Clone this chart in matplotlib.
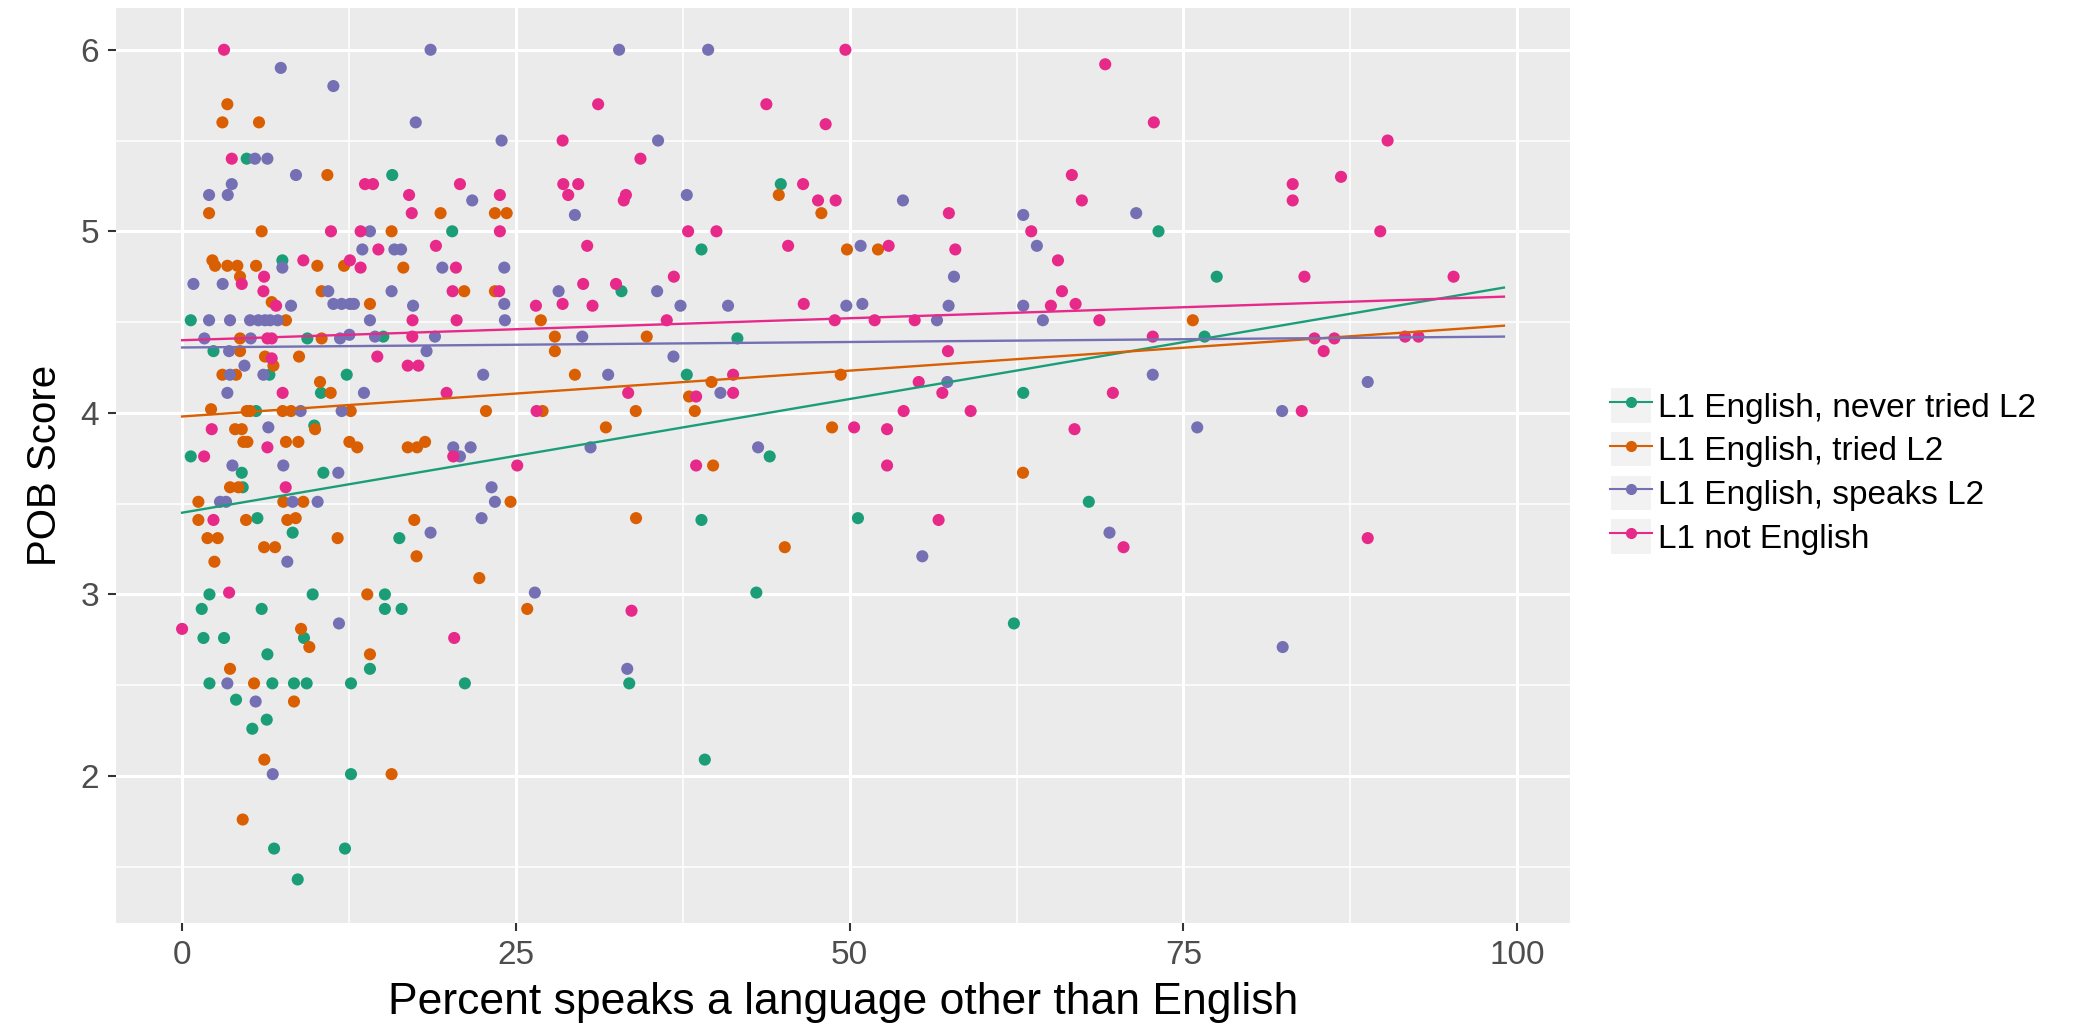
import matplotlib
matplotlib.use("Agg")
import matplotlib.pyplot as plt
from matplotlib.lines import Line2D
from matplotlib.patches import Rectangle

plt.rcParams["font.family"] = ["Liberation Sans", "DejaVu Sans"]

# groups, colours (Dark2)
GROUPS = ["L1 English, never tried L2", "L1 English, tried L2",
          "L1 English, speaks L2", "L1 not English"]
COLORS = ["#1B9E77", "#D95F02", "#7570B3", "#E7298A"]

# points: (percent, POB score)
GREEN_PTS = [
    (4.84, 5.40), (15.74, 5.31), (7.51, 4.84), (0.65, 4.51), (9.38, 4.41), (15.07, 4.42),
    (2.35, 4.34), (6.54, 4.21), (12.33, 4.21), (10.40, 4.11), (5.54, 4.01), (9.90, 3.93),
    (0.65, 3.76), (4.47, 3.67), (10.58, 3.67),
    (4.54, 3.59), (5.64, 3.42), (8.28, 3.34), (16.27, 3.31), (2.05, 3.00), (9.78, 3.00),
    (15.19, 3.00), (1.47, 2.92), (5.96, 2.92), (15.19, 2.92), (16.44, 2.92), (9.13, 2.76),
    (1.60, 2.76), (3.14, 2.76), (6.39, 2.67), (14.07, 2.59), (2.05, 2.51), (6.76, 2.51),
    (8.38, 2.51), (9.33, 2.51), (12.65, 2.51), (4.04, 2.42), (6.34, 2.31), (5.26, 2.26),
    (12.65, 2.01), (6.89, 1.60), (12.20, 1.60), (8.66, 1.43),
    (20.23, 5.00), (32.91, 4.67), (37.80, 4.21), (21.18, 2.51), (33.49, 2.51),
    (44.84, 5.26), (38.90, 4.90), (41.59, 4.41), (63.00, 4.11), (44.01, 3.76),
    (67.91, 3.51), (38.90, 3.41), (50.62, 3.42), (43.01, 3.01), (62.30, 2.84), (39.15, 2.09),
    (73.13, 5.00), (77.49, 4.75), (76.58, 4.42),
]

ORANGE_PTS = [
    (3.39, 5.70), (3.02, 5.60), (5.76, 5.60), (10.88, 5.31), (2.02, 5.10), (5.96, 5.00),
    (15.69, 5.00), (2.27, 4.84), (2.47, 4.81), (3.39, 4.81), (4.14, 4.81), (4.34, 4.75),
    (5.54, 4.81), (10.13, 4.81), (12.13, 4.81), (16.57, 4.80), (10.45, 4.67), (6.71, 4.61),
    (14.07, 4.60), (7.78, 4.51), (4.34, 4.41), (10.45, 4.41), (4.34, 4.34), (6.21, 4.31),
    (8.76, 4.31), (6.84, 4.26), (3.02, 4.21), (4.04, 4.21), (10.33, 4.17), (11.13, 4.11),
    (2.17, 4.02), (4.84, 4.01), (5.09, 4.01), (7.53, 4.01), (8.16, 4.01), (12.63, 4.01),
    (3.97, 3.91), (4.47, 3.91), (9.96, 3.91), (4.59, 3.84), (4.89, 3.84), (7.78, 3.84),
    (8.71, 3.84), (12.53, 3.84), (13.12, 3.81), (16.90, 3.81), (17.60, 3.81),
    (3.59, 3.59), (4.22, 3.59), (1.22, 3.51), (7.58, 3.51), (9.08, 3.51), (1.22, 3.41),
    (4.79, 3.41), (7.88, 3.41), (8.51, 3.42), (1.90, 3.31), (2.67, 3.31), (6.14, 3.26),
    (6.96, 3.26), (11.65, 3.31), (17.39, 3.41), (17.56, 3.21), (2.42, 3.18), (13.87, 3.00),
    (8.91, 2.81), (9.53, 2.71), (14.07, 2.67), (3.59, 2.59), (5.39, 2.51), (8.38, 2.41),
    (6.16, 2.09), (15.69, 2.01), (4.54, 1.76),
    (23.43, 5.10), (24.31, 5.10), (19.36, 5.10), (21.13, 4.67), (23.43, 4.67), (26.87, 4.51),
    (27.92, 4.42), (27.92, 4.34), (34.80, 4.42), (29.42, 4.21), (22.76, 4.01), (27.00, 4.01),
    (33.98, 4.01), (37.97, 4.09), (38.40, 4.01), (31.74, 3.92), (18.20, 3.84),
    (24.60, 3.51), (34.00, 3.42), (22.26, 3.09), (25.85, 2.92),
    (44.69, 5.20), (47.88, 5.10), (49.80, 4.90), (52.12, 4.90), (39.65, 4.17), (49.33, 4.21),
    (48.68, 3.92), (39.77, 3.71), (62.98, 3.67), (45.14, 3.26), (75.70, 4.51),
]

PURPLE_PTS = [
    (7.39, 5.90), (11.33, 5.80), (17.50, 5.60), (5.46, 5.40), (6.39, 5.40), (8.53, 5.31),
    (2.02, 5.20), (3.72, 5.26), (3.42, 5.20), (14.07, 5.00), (13.50, 4.90), (15.90, 4.90),
    (16.40, 4.90), (7.51, 4.80), (0.85, 4.71), (3.04, 4.71), (10.95, 4.67), (15.69, 4.67),
    (8.16, 4.59), (11.33, 4.60), (11.95, 4.60), (12.57, 4.60), (12.87, 4.60), (17.30, 4.59),
    (2.02, 4.51), (3.59, 4.51), (5.09, 4.51), (5.71, 4.51), (6.21, 4.51), (6.59, 4.51),
    (7.16, 4.51), (14.07, 4.51), (1.67, 4.41), (5.14, 4.41), (11.83, 4.41), (12.53, 4.43),
    (14.45, 4.42), (3.52, 4.34), (4.67, 4.26), (3.59, 4.21), (6.09, 4.21), (3.39, 4.11),
    (13.62, 4.11), (8.88, 4.01), (11.95, 4.01), (6.46, 3.92), (3.77, 3.71), (7.58, 3.71),
    (11.70, 3.67),
    (2.84, 3.51), (3.29, 3.51), (8.28, 3.51), (10.15, 3.51), (7.88, 3.18), (11.75, 2.84),
    (3.39, 2.51), (5.51, 2.41), (6.79, 2.01),
    (18.61, 6.00), (32.73, 6.00), (23.93, 5.50), (35.65, 5.50), (21.73, 5.17), (29.42, 5.09),
    (37.80, 5.20), (19.49, 4.80), (24.13, 4.80), (24.13, 4.60), (24.18, 4.51), (28.20, 4.67),
    (35.58, 4.67), (37.33, 4.59), (18.94, 4.42), (18.31, 4.34), (29.97, 4.42), (22.55, 4.21),
    (31.91, 4.21), (36.80, 4.31), (20.31, 3.81), (21.61, 3.81), (20.81, 3.76), (30.59, 3.81),
    (23.18, 3.59), (23.43, 3.51), (22.43, 3.42), (18.61, 3.34), (26.42, 3.01), (33.34, 2.59),
    (39.40, 6.00), (53.99, 5.17), (63.00, 5.09), (64.02, 4.92), (50.82, 4.92), (57.81, 4.75),
    (40.89, 4.59), (49.75, 4.59), (50.95, 4.60), (57.41, 4.59), (63.00, 4.59), (56.54, 4.51),
    (64.47, 4.51), (57.31, 4.17), (40.32, 4.11), (43.14, 3.81), (55.44, 3.21),
    (71.46, 5.10), (72.70, 4.21), (88.80, 4.17), (82.39, 4.01), (76.03, 3.92),
    (69.46, 3.34), (82.43, 2.71),
]

PINK_PTS = [
    (3.14, 6.00), (3.72, 5.40), (13.70, 5.26), (14.30, 5.26), (17.00, 5.20), (17.20, 5.10),
    (11.15, 5.00), (13.37, 5.00), (14.70, 4.90), (6.14, 4.75), (4.47, 4.71), (9.08, 4.84),
    (12.57, 4.84), (13.37, 4.80), (6.09, 4.67), (7.04, 4.59), (17.26, 4.51), (6.39, 4.41),
    (6.71, 4.41), (17.24, 4.42), (6.71, 4.30), (14.62, 4.31), (16.90, 4.26), (17.70, 4.26),
    (7.53, 4.11), (2.22, 3.91), (6.39, 3.81), (1.65, 3.76),
    (7.76, 3.59), (2.35, 3.41), (3.52, 3.01), (0.00, 2.81),
    (31.16, 5.70), (28.50, 5.50), (34.33, 5.40), (20.81, 5.26), (23.80, 5.20), (28.55, 5.26),
    (29.67, 5.26), (28.92, 5.20), (33.08, 5.17), (33.24, 5.20), (23.80, 5.00), (37.90, 5.00),
    (19.01, 4.92), (30.34, 4.92), (20.51, 4.80), (20.26, 4.67), (23.75, 4.67), (20.56, 4.51),
    (26.50, 4.59), (28.50, 4.60), (30.04, 4.71), (30.74, 4.59), (32.50, 4.71), (36.83, 4.75),
    (36.30, 4.51), (19.81, 4.11), (33.41, 4.11), (26.55, 4.01), (38.50, 4.09), (20.31, 3.76),
    (25.10, 3.71), (38.50, 3.71), (33.66, 2.91), (20.38, 2.76),
    (49.68, 6.00), (43.76, 5.70), (48.20, 5.59), (46.51, 5.26), (47.63, 5.17), (48.95, 5.17),
    (57.43, 5.10), (66.64, 5.31), (67.39, 5.17), (63.60, 5.00), (65.60, 4.84), (40.02, 5.00),
    (45.39, 4.92), (52.92, 4.92), (57.91, 4.90), (46.56, 4.60), (65.90, 4.67), (65.07, 4.59),
    (66.92, 4.60), (48.88, 4.51), (51.87, 4.51), (54.87, 4.51), (68.70, 4.51), (57.36, 4.34),
    (41.27, 4.21), (55.17, 4.17), (41.27, 4.11), (56.94, 4.11), (54.04, 4.01), (59.06, 4.01),
    (50.33, 3.92), (52.80, 3.91), (66.84, 3.91), (52.80, 3.71), (56.66, 3.41),
    (69.14, 5.92), (72.78, 5.60), (90.29, 5.50), (83.18, 5.26), (83.18, 5.17), (86.80, 5.30),
    (89.74, 5.00), (84.06, 4.75), (95.23, 4.75), (72.70, 4.42), (84.81, 4.41), (86.30, 4.41),
    (85.50, 4.34), (91.60, 4.42), (92.60, 4.42), (69.71, 4.11), (83.86, 4.01),
    (70.51, 3.26), (88.80, 3.31),
]

# linear fits, value at each end of FIT_X
FIT_X = [0, 99]
GREEN_FIT = [3.45, 4.69]
ORANGE_FIT = [3.98, 4.48]
PURPLE_FIT = [4.36, 4.42]
PINK_FIT = [4.40, 4.64]

X_TICKS = [0, 25, 50, 75, 100]
Y_TICKS = [2, 3, 4, 5, 6]

W, H = 2095, 1032
fig = plt.figure(figsize=(W / 100, H / 100), dpi=100)
ax = fig.add_axes([116 / W, 1 - 923 / H, (1570 - 116) / W, (923 - 8) / H])
ax.set_facecolor("#EBEBEB")
for s in ax.spines.values():
    s.set_visible(False)

ax.set_xlim(-4.95, 103.95)
ax.set_ylim(1.19, 6.23)
ax.set_xticks(X_TICKS)
ax.set_yticks(Y_TICKS)
ax.set_xticks([12.5, 37.5, 62.5, 87.5], minor=True)
ax.set_yticks([1.5, 2.5, 3.5, 4.5, 5.5], minor=True)
ax.grid(which="major", color="white", lw=2.2)
ax.grid(which="minor", color="white", lw=1.1)
ax.set_axisbelow(True)
ax.tick_params(which="major", length=6, width=1.5, color="#333333",
               labelcolor="#4D4D4D", labelsize=24, pad=6)
ax.tick_params(which="minor", length=0)

pts = [GREEN_PTS, ORANGE_PTS, PURPLE_PTS, PINK_PTS]
fits = [GREEN_FIT, ORANGE_FIT, PURPLE_FIT, PINK_FIT]

for p, c in zip(pts, COLORS):
    xs = [a for a, b in p]
    ys = [b for a, b in p]
    ax.scatter(xs, ys, s=76, color=c, edgecolors="none", zorder=3)

for f, c in zip(fits, COLORS):
    ax.plot(FIT_X, f, color=c, lw=1.7, zorder=4)

ax.set_xlabel("Percent speaks a language other than English", fontsize=32, labelpad=8)
ax.set_ylabel("POB Score", fontsize=29, labelpad=12)

handles = []
for c in COLORS:
    bg = Rectangle((0, 0), 1, 1, facecolor="#F2F2F2", edgecolor="white", lw=1.5)
    ln = Line2D([0], [0], color=c, lw=1.5, marker="o", markersize=7)
    handles.append((bg, ln))

fig.legend(handles, GROUPS, loc="center left", bbox_to_anchor=(1610 / W, 1 - 471 / H),
           frameon=False, fontsize=24, handlelength=1.25, handleheight=1.3,
           labelspacing=0.22, handletextpad=0.2, borderpad=0, borderaxespad=0)

fig.savefig("out.png", dpi=100)
